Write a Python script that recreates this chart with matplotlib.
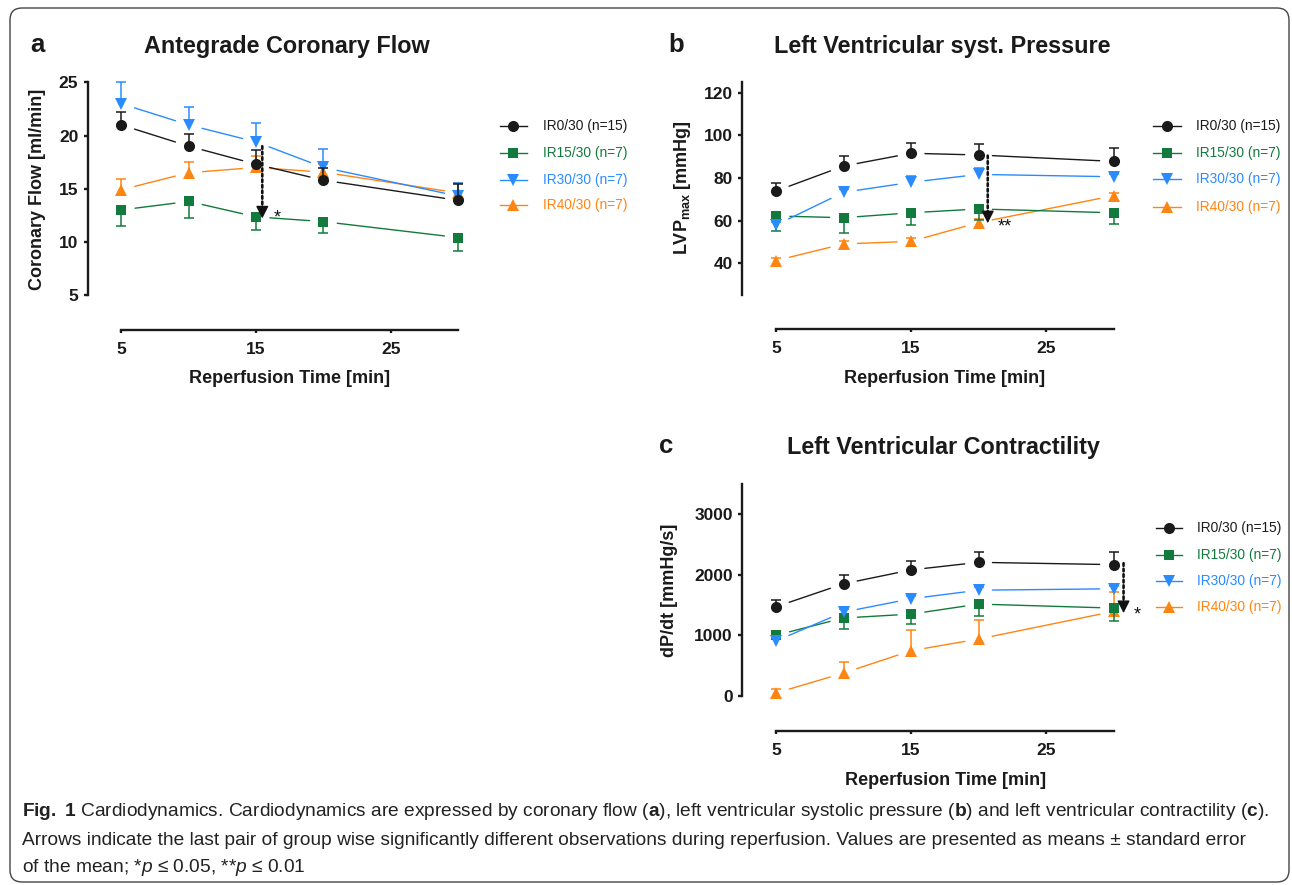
import matplotlib
matplotlib.use('Agg')
import matplotlib.pyplot as plt
from matplotlib import font_manager
from matplotlib.patches import FancyBboxPatch

# ---------------- data ----------------
time_min = [5, 10, 15, 20, 30]
groups = ['IR0/30 (n=15)', 'IR15/30 (n=7)', 'IR30/30 (n=7)', 'IR40/30 (n=7)']
err_side = ['up', 'down', 'up', 'up']

flow_ir0 = [21.0, 19.0, 17.3, 15.8, 13.9]
flow_ir15 = [13.0, 13.8, 12.35, 11.9, 10.4]
flow_ir30 = [23.0, 21.0, 19.4, 17.0, 14.3]
flow_ir40 = [14.9, 16.5, 17.0, 16.55, 14.6]
flow_sem_ir0 = [1.25, 1.15, 1.35, 1.1, 1.5]
flow_sem_ir15 = [1.55, 1.6, 1.2, 1.1, 1.25]
flow_sem_ir30 = [2.0, 1.7, 1.75, 1.7, 1.25]
flow_sem_ir40 = [1.0, 1.0, 1.1, 0.8, 0.9]

lvp_ir0 = [73.9, 85.6, 91.6, 90.8, 87.8]
lvp_ir15 = [62.2, 61.4, 63.7, 65.5, 63.7]
lvp_ir30 = [58.0, 73.3, 78.0, 81.7, 80.6]
lvp_ir40 = [41.3, 49.1, 50.3, 59.1, 71.7]
lvp_sem_ir0 = [3.9, 4.9, 4.7, 5.3, 6.4]
lvp_sem_ir15 = [7.0, 7.0, 5.9, 5.2, 5.1]
lvp_sem_ir30 = [1.5, 1.5, 3.1, 2.8, 1.5]
lvp_sem_ir40 = [1.0, 1.5, 1.5, 1.5, 1.5]

dpdt_ir0 = [1470, 1848, 2077, 2202, 2164]
dpdt_ir15 = [1001, 1285, 1349, 1514, 1448]
dpdt_ir30 = [907, 1382, 1602, 1743, 1766]
dpdt_ir40 = [49, 378, 746, 938, 1393]
dpdt_sem_ir0 = [109, 141, 153, 175, 208]
dpdt_sem_ir15 = [60, 183, 170, 203, 208]
dpdt_sem_ir30 = [50, 50, 50, 50, 50]
dpdt_sem_ir40 = [60, 187, 345, 318, 323]

# significance arrows: x, y_start, y_end, label, label x, label y
sig_a = (15.46, 19.0, 12.2, '*', 16.3, 11.8)
sig_b = (20.68, 90.5, 58.8, '**', 21.4, 55.0)
sig_c = (30.74, 2188, 1366, '*', 31.5, 1257)

# ---------------- style ----------------
W, H = 1292, 885


def has_font(name):
    try:
        font_manager.findfont(font_manager.FontProperties(family=name),
                              fallback_to_default=False)
        return True
    except Exception:
        return False


MAIN = 'Liberation Sans' if has_font('Liberation Sans') else 'DejaVu Sans'
CAP = 'Liberation Sans Narrow' if has_font('Liberation Sans Narrow') else MAIN

plt.rcParams['font.family'] = [MAIN, 'DejaVu Sans']
plt.rcParams['mathtext.fontset'] = 'custom'
plt.rcParams['mathtext.rm'] = CAP
plt.rcParams['mathtext.it'] = CAP + ':italic'
plt.rcParams['mathtext.bf'] = CAP + ':bold'
plt.rcParams['mathtext.sf'] = MAIN + ':bold'

colors = ['#1a1a1a', '#127a3c', '#2a8bff', '#ff8512']
markers = ['o', 's', 'v', '^']
msizes = [8.0, 7.5, 8.2, 8.2]
draw_order = [3, 1, 2, 0]
AX_C = '#1a1a1a'

fig = plt.figure(figsize=(W / 100, H / 100), dpi=100)
fig.patch.set_facecolor('white')


def rect(left, top, right, bottom):
    return [left / W, 1 - bottom / H, (right - left) / W, (bottom - top) / H]


def panel(ax, means, sems, ylim, ybounds, yticks, sig):
    ax.set_xlim(2.5, 30.5)
    ax.set_ylim(*ylim)
    ax.patch.set_visible(False)
    for i in draw_order:
        c = colors[i]
        m = means[i]
        s = sems[i]
        ends = [v + e if err_side[i] == 'up' else v - e for v, e in zip(m, s)]
        z = 3 + draw_order.index(i)
        ax.vlines(time_min, m, ends, color=c, lw=1.1, zorder=z)
        ax.plot(time_min, ends, ls='none', marker='_', ms=7.4, mew=1.1,
                color=c, zorder=z, clip_on=False)
        for j in range(len(time_min) - 1):
            ax.annotate('', xy=(time_min[j + 1], m[j + 1]),
                        xytext=(time_min[j], m[j]),
                        arrowprops=dict(arrowstyle='-', color=c, lw=1.0,
                                        shrinkA=10, shrinkB=10),
                        zorder=z, annotation_clip=False)
        ax.plot(time_min, m, ls='none', marker=markers[i], ms=msizes[i],
                color=c, mec=c, mew=0, zorder=z + 0.5, clip_on=False)
    # significance arrow: dotted shaft + solid head
    x, y0, y1, lab, lx, ly = sig
    ax.annotate('', xy=(x, y1), xytext=(x, y0),
                arrowprops=dict(arrowstyle='-', color='#111111', lw=1.9,
                                linestyle=(0, (1, 1.1)), shrinkA=0, shrinkB=6),
                zorder=10, annotation_clip=False)
    ax.annotate('', xy=(x, y1), xytext=(0, 9), textcoords='offset points',
                arrowprops=dict(arrowstyle='-|>,head_length=0.75,head_width=0.38',
                                color='#111111', lw=1.0, shrinkA=0, shrinkB=0),
                zorder=10, annotation_clip=False)
    ax.text(lx, ly, lab, fontsize=13, color='#111111', ha='left',
            va='baseline', zorder=10)
    for sname in ['top', 'right']:
        ax.spines[sname].set_visible(False)
    ax.spines['left'].set_bounds(*ybounds)
    ax.spines['bottom'].set_bounds(5, 30)
    for sname in ['left', 'bottom']:
        ax.spines[sname].set_linewidth(1.7)
        ax.spines[sname].set_color(AX_C)
    ax.set_xticks([5, 15, 25])
    ax.set_yticks(yticks)
    ax.tick_params(axis='y', direction='out', length=3.2, width=1.7, pad=3.5,
                   labelsize=12.5, colors=AX_C)
    ax.tick_params(axis='x', direction='out', length=2.5, width=1.7, pad=6,
                   labelsize=12.5, colors=AX_C)
    for lab_ in ax.get_xticklabels() + ax.get_yticklabels():
        lab_.set_fontweight('bold')


ax_a = fig.add_axes(rect(87.6, 80.3, 465.0, 330.0))
panel(ax_a, [flow_ir0, flow_ir15, flow_ir30, flow_ir40],
      [flow_sem_ir0, flow_sem_ir15, flow_sem_ir30, flow_sem_ir40],
      (1.7, 25.2), (5, 25), [5, 10, 15, 20, 25], sig_a)

ax_b = fig.add_axes(rect(742.3, 81.5, 1120.3, 329.3))
panel(ax_b, [lvp_ir0, lvp_ir15, lvp_ir30, lvp_ir40],
      [lvp_sem_ir0, lvp_sem_ir15, lvp_sem_ir30, lvp_sem_ir40],
      (9.08, 125.25), (25, 125), [40, 60, 80, 100, 120], sig_b)

ax_c = fig.add_axes(rect(742.3, 483.3, 1120.3, 730.7))
panel(ax_c, [dpdt_ir0, dpdt_ir15, dpdt_ir30, dpdt_ir40],
      [dpdt_sem_ir0, dpdt_sem_ir15, dpdt_sem_ir30, dpdt_sem_ir40],
      (-572, 3504), (0, 3500), [0, 1000, 2000, 3000], sig_c)

# ---------------- overlay in pixel coordinates ----------------
ov = fig.add_axes([0, 0, 1, 1])
ov.set_xlim(0, W)
ov.set_ylim(H, 0)
ov.axis('off')
ov.patch.set_visible(False)

# frame
r = 12
ov.add_patch(FancyBboxPatch((10 + r, 8 + r), 1279 - 2 * r, 874 - 2 * r,
                            boxstyle=f'round,pad={r}', fc='none',
                            ec='#444444', lw=1.0))

# titles, letters, labels
TXT = '#1a1a1a'
for x, y, s in [(286.6, 53.3, 'Antegrade Coronary Flow'),
                (942.0, 53.3, 'Left Ventricular syst. Pressure'),
                (943.0, 454.3, 'Left Ventricular Contractility')]:
    ov.text(x, y, s, ha='center', va='baseline', fontsize=16.8,
            fontweight='bold', color=TXT)
for x, y, s in [(37.3, 51.7, 'a'), (676.6, 51.7, 'b'), (666.4, 453.3, 'c')]:
    ov.text(x, y, s, ha='center', va='baseline', fontsize=18.5,
            fontweight='bold', color=TXT)
for x, y in [(290, 383.3), (945, 383.3), (946, 785)]:
    ov.text(x, y, 'Reperfusion Time [min]', ha='center', va='baseline',
            fontsize=13, fontweight='bold', color=TXT)
ov.text(37.3, 189, 'Coronary Flow [ml/min]', rotation=90, ha='center',
        va='center', fontsize=13, fontweight='bold', color=TXT)
ov.text(682.8, 187.5, r'$\mathsf{LVP_{max}\ [mmHg]}$', rotation=90,
        ha='center', va='center', fontsize=13, color=TXT)
ov.text(670, 590, 'dP/dt [mmHg/s]', rotation=90, ha='center', va='center',
        fontsize=13, fontweight='bold', color=TXT)

# legends
legend_specs = [(500.0, 526.7, [126, 153.3, 180, 205], 542.7),
                (1153.3, 1180.7, [126, 153, 179, 207], 1196.0),
                (1155.5, 1181.8, [527.7, 555, 581, 607.3], 1197.0)]
for x0, x1, rows, tx in legend_specs:
    for i, y in enumerate(rows):
        c = colors[i]
        ov.plot([x0, x1], [y, y], color=c, lw=1.0)
        ov.plot([(x0 + x1) / 2], [y], ls='none', marker=markers[i],
                ms=msizes[i], color=c, mew=0)
        ov.text(tx, y, groups[i], ha='left', va='center', fontsize=9.9,
                color=c)

# caption
cap_lines = [
    r'$\mathbf{Fig.}$ $\mathbf{1}$ Cardiodynamics. Cardiodynamics are expressed by coronary flow ($\mathbf{a}$), left ventricular systolic pressure ($\mathbf{b}$) and left ventricular contractility ($\mathbf{c}$).',
    'Arrows indicate the last pair of group wise significantly different observations during reperfusion. Values are presented as means \u00b1 standard error',
    'of the mean; *$\\mathit{p}$ \u2264 0.05, **$\\mathit{p}$ \u2264 0.01',
]
cap_targets = [1248.0, 1250.0]
cap_y = [816, 845, 872]
renderer = fig.canvas.get_renderer()
scales = []
for s, tw in zip(cap_lines[:2], cap_targets):
    probe = ov.text(22, 500, s, fontsize=12, family=[CAP, 'DejaVu Sans'],
                    ha='left', va='baseline')
    wpx = probe.get_window_extent(renderer).width
    scales.append(tw / wpx)
    probe.remove()
cap_size = 12 * min(scales)
for s, y in zip(cap_lines, cap_y):
    ov.text(22, y, s, fontsize=cap_size, family=[CAP, 'DejaVu Sans'],
            ha='left', va='baseline', color='#222222')

fig.savefig('out.png', dpi=100, facecolor='white')
